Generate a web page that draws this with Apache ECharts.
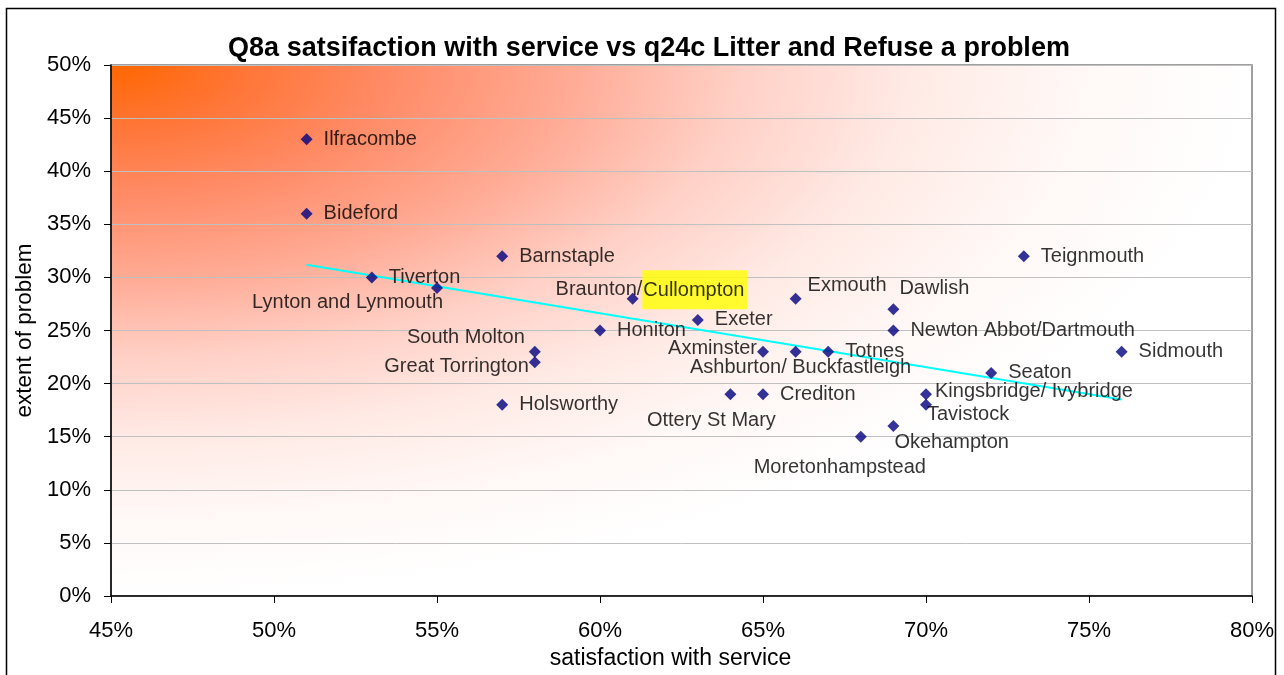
<!DOCTYPE html>
<html>
<head>
<meta charset="utf-8">
<script src="https://cdn.jsdelivr.net/npm/echarts@6/dist/echarts.min.js"></script>
<style>
    html, body { margin: 0; padding: 0; background: #fff; }
    #chart { width: 1284px; height: 675px; }
</style>
</head>
<body>
<div id="chart"></div>
<script>
// towns, satisfaction with service (%), extent of problem (%)
const towns = [
    "Ilfracombe", "Bideford", "Tiverton", "Lynton and Lynmouth", "Barnstaple",
    "South Molton", "Great Torrington", "Holsworthy", "Honiton", "Braunton/Cullompton",
    "Exeter", "Axminster", "Ashburton/ Buckfastleigh", "Totnes", "Exmouth",
    "Ottery St Mary", "Crediton", "Moretonhampstead", "Okehampton", "Dawlish",
    "Newton Abbot/Dartmouth", "Kingsbridge/ Ivybridge", "Tavistock", "Seaton", "Teignmouth",
    "Sidmouth"
];
const satisfaction = [
    51, 51, 53, 55, 57,
    58, 58, 57, 60, 61,
    63, 65, 66, 67, 66,
    64, 65, 68, 69, 69,
    69, 70, 70, 72, 73,
    76
];
const problem = [
    43, 36, 30, 29, 32,
    23, 22, 18, 25, 28,
    26, 23, 23, 23, 28,
    19, 19, 15, 16, 27,
    25, 19, 18, 21, 32,
    23
];
// linear trend line end points
const trendX = [51, 76];
const trendY = [31.2, 18.5];

const xTicks = [45, 50, 55, 60, 65, 70, 75, 80];
const yTicks = [0, 5, 10, 15, 20, 25, 30, 35, 40, 45, 50];

// label placement: [align, dx, dy] from the marker centre
const labelPlace = {
    "Lynton and Lynmouth": ["right", 6, 14],
    "South Molton": ["right", -10, -14],
    "Great Torrington": ["right", -6, 4],
    "Braunton/Cullompton": ["left", -77, -9],
    "Axminster": ["right", -6, -3],
    "Ashburton/ Buckfastleigh": ["center", 5, 16],
    "Exmouth": ["left", 12, -13],
    "Dawlish": ["left", 6, -21],
    "Ottery St Mary": ["center", -19, 26],
    "Moretonhampstead": ["center", -21, 31],
    "Okehampton": ["left", 1, 16],
    "Kingsbridge/ Ivybridge": ["left", 9, -3],
    "Tavistock": ["left", 1, 10],
};

const font = "'Liberation Sans', Arial, sans-serif";
const gridL = 111, gridT = 65, gridR = 1252, gridB = 596;

let myChart = echarts.init(document.getElementById("chart"));

const points = towns.map((name, i) => {
    const p = labelPlace[name] || ["left", 17, 0];
    const item = {
        name: name,
        value: [satisfaction[i], problem[i]],
        label: {
            align: p[0],
            offset: [p[1], p[2]],
        },
    };
    if (name === "Braunton/Cullompton") {
        item.label.formatter = "{a|Braunton/}{b|Cullompton}";
    }
    return item;
});

const plotH = gridB - gridT;
const plotW = gridR - gridL;

let option = {
    animation: false,
    textStyle: { fontFamily: font },
    title: {
        text: "Q8a satsifaction with service vs q24c Litter and Refuse a problem",
        left: 644,
        textAlign: "center",
        top: 30,
        textStyle: { fontFamily: font, fontSize: 27, fontWeight: "bold", color: "#000" },
    },
    graphic: [
        {
            type: "rect",
            x: gridL,
            y: gridT,
            scaleX: plotW / plotH,
            z: -10,
            silent: true,
            shape: { x: 0, y: 0, width: plotH, height: plotH },
            style: {
                fill: {
                    type: "radial",
                    x: 0,
                    y: 0,
                    r: 1,
                    colorStops: [
                        { offset: 0, color: "#FF6600" },
                        { offset: 0.12, color: "#FF7638" },
                        { offset: 0.25, color: "#FF8C68" },
                        { offset: 0.4, color: "#FFAA94" },
                        { offset: 0.55, color: "#FFD0C6" },
                        { offset: 0.7, color: "#FFEAE5" },
                        { offset: 0.85, color: "#FFF8F6" },
                        { offset: 1, color: "#FFFFFF" },
                    ],
                },
            },
        },
        {
            type: "rect",
            z: 100,
            silent: true,
            shape: { x: 6.5, y: 8.5, width: 1269, height: 700 },
            style: { fill: null, stroke: "#000", lineWidth: 1.5 },
        },
    ],
    grid: {
        left: gridL,
        top: gridT,
        right: 1284 - gridR,
        bottom: 675 - gridB,
        show: true,
        backgroundColor: "transparent",
        borderColor: "#808080",
        borderWidth: 1.5,
    },
    xAxis: {
        type: "value",
        min: xTicks[0],
        max: xTicks[xTicks.length - 1],
        interval: 5,
        name: "satisfaction with service",
        nameLocation: "middle",
        nameGap: 51,
        nameTextStyle: { fontFamily: font, fontSize: 23, color: "#000", padding: [0, 22, 0, 0] },
        axisLine: { show: true, lineStyle: { color: "#000", width: 1.5 } },
        axisTick: { show: true, length: 7, lineStyle: { color: "#000" } },
        axisLabel: { formatter: "{value}%", fontSize: 22, color: "#000", margin: 24, fontFamily: font },
        splitLine: { show: false },
    },
    yAxis: {
        type: "value",
        min: yTicks[0],
        max: yTicks[yTicks.length - 1],
        interval: 5,
        name: "extent of problem",
        nameLocation: "middle",
        nameGap: 75,
        nameTextStyle: { fontFamily: font, fontSize: 22.5, color: "#000" },
        axisLine: { show: true, lineStyle: { color: "#000", width: 1.5 } },
        axisTick: { show: true, length: 7, lineStyle: { color: "#000" } },
        axisLabel: { formatter: "{value}%", fontSize: 22, color: "#000", margin: 20, fontFamily: font },
        splitLine: { show: true, lineStyle: { color: "#C0C0C0", width: 1 } },
    },
    series: [
        {
            type: "line",
            data: trendX.map((x, i) => [x, trendY[i]]),
            showSymbol: false,
            silent: true,
            lineStyle: { color: "#00FFFF", width: 2 },
            z: 2,
        },
        {
            type: "scatter",
            data: points,
            symbol: "diamond",
            symbolSize: 12,
            itemStyle: { color: "#000080" },
            z: 3,
            label: {
                show: true,
                position: "inside",
                verticalAlign: "middle",
                formatter: "{b}",
                color: "#000",
                fontSize: 20,
                fontFamily: font,
                rich: {
                    a: { fontSize: 20, color: "#000", fontFamily: font },
                    b: {
                        fontSize: 20,
                        color: "#000",
                        fontFamily: font,
                        backgroundColor: "#FFFF00",
                        padding: [10, 3, 9, 1],
                    },
                },
            },
        },
    ],
};
option && myChart.setOption(option);
</script>
</body>
</html>
